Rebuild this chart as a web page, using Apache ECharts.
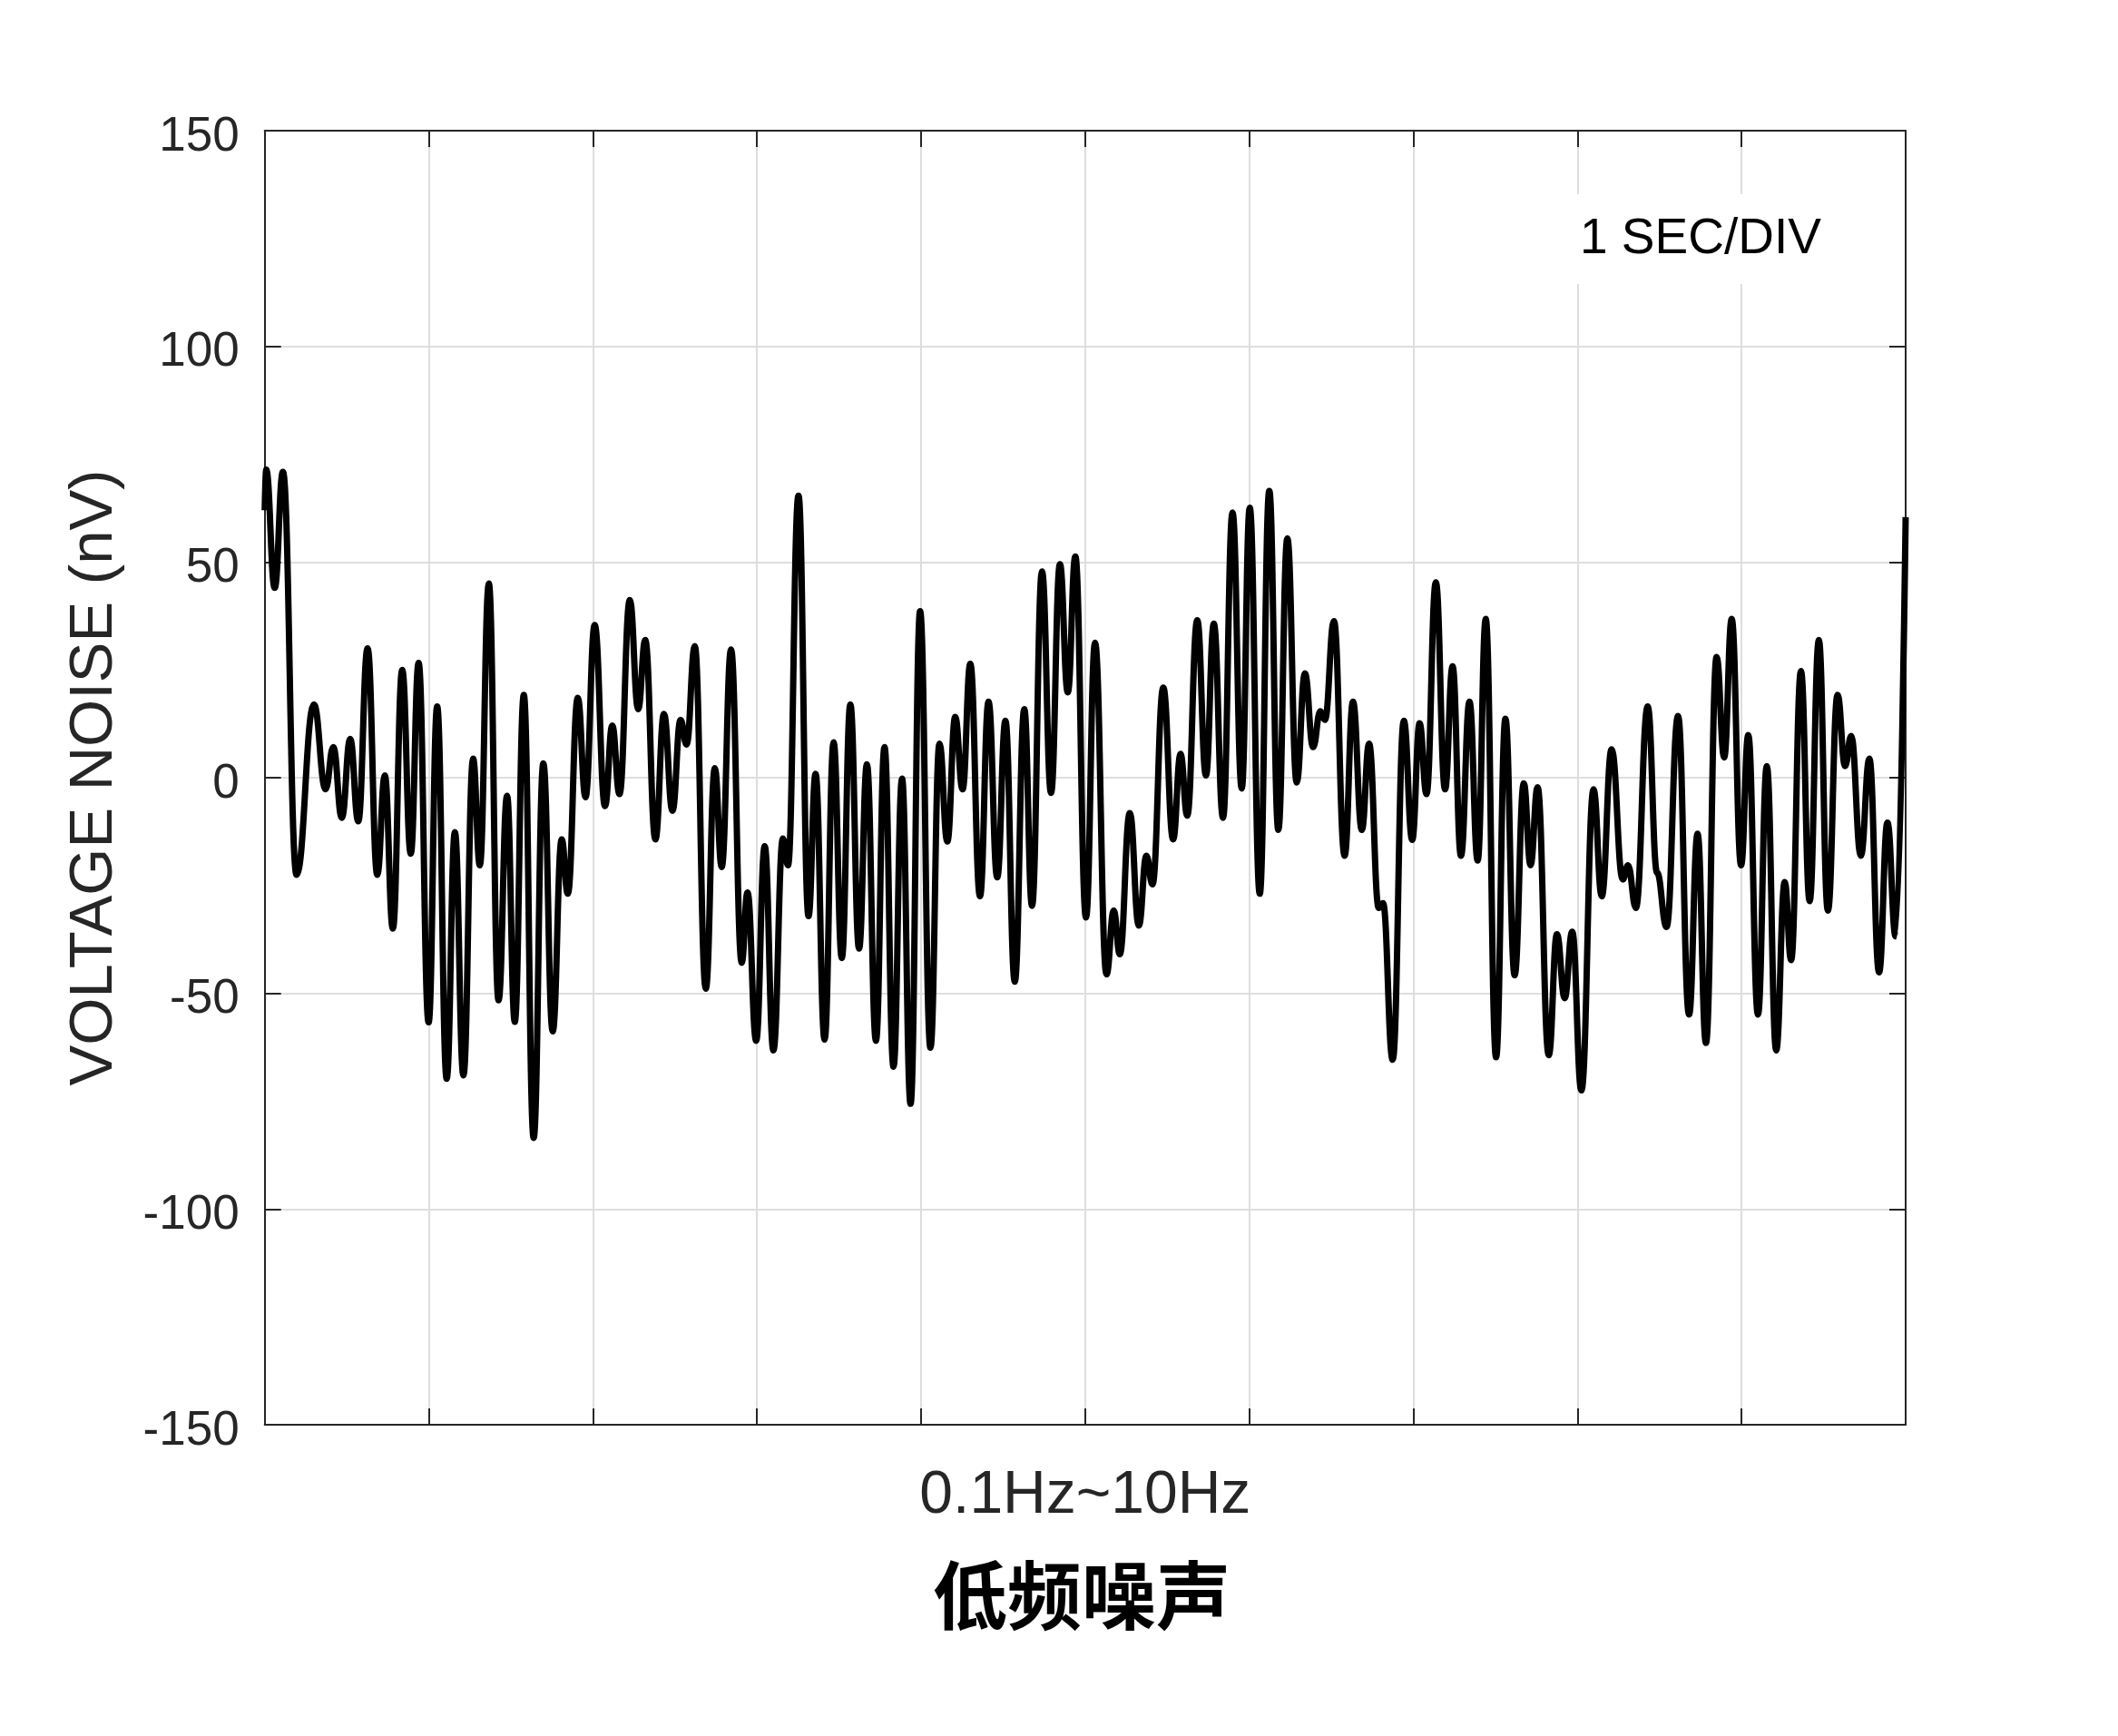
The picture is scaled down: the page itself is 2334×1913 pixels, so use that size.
<!DOCTYPE html>
<html>
<head>
<meta charset="utf-8">
<script src="https://cdn.jsdelivr.net/npm/echarts@6/dist/echarts.min.js"></script>
<style>html,body{margin:0;padding:0;background:#fff}#c{width:2334px;height:1913px}</style>
</head>
<body>
<div id="c"></div>
<script>
// time (seconds, 1 s per division) and voltage noise (nV) at turning points of the trace
const timeSec = [0.000,0.009,0.061,0.111,0.194,0.300,0.371,0.418,0.470,0.521,0.570,0.627,0.686,0.732,0.781,0.838,0.890,0.938,0.999,
1.051,1.109,1.159,1.211,1.270,1.311,1.366,1.425,1.477,1.524,1.579,1.639,1.698,1.755,1.810,1.847,1.908,1.955,
2.011,2.074,2.118,2.162,2.225,2.276,2.319,2.381,2.433,2.485,2.534,2.571,2.621,2.688,2.743,2.785,2.842,2.907,2.942,2.995,
3.047,3.100,3.158,3.189,3.253,3.314,3.357,3.412,3.467,3.517,3.569,3.622,3.670,3.725,3.777,3.832,3.884,3.936,3.994,
4.057,4.112,4.160,4.208,4.253,4.300,4.359,4.411,4.464,4.514,4.571,4.629,4.676,4.737,4.792,4.846,4.894,4.940,
5.005,5.060,5.130,5.174,5.211,5.272,5.327,5.373,5.410,5.476,5.536,5.581,5.622,5.683,5.736,5.784,5.840,5.898,5.954,
6.003,6.064,6.122,6.177,6.232,6.289,6.339,6.389,6.433,6.461,6.516,6.581,6.632,6.686,6.730,6.789,6.815,6.874,6.942,6.993,
7.038,7.080,7.137,7.193,7.239,7.290,7.342,7.392,7.441,7.504,7.561,7.617,7.673,7.714,7.757,7.825,7.875,7.922,7.968,
8.024,8.098,8.148,8.208,8.276,8.308,8.356,8.428,8.485,8.543,8.613,8.680,8.732,8.783,8.848,8.894,8.940,8.997,
9.041,9.100,9.154,9.211,9.263,9.302,9.362,9.415,9.471,9.526,9.585,9.631,9.668,9.727,9.779,9.838,9.889,9.939,10.000];
const noiseNV = [62,71.4,44,70.9,-22.5,17,-2.7,7.1,-9.3,9,-10.1,30,-22.5,0.5,-35,25,-17.6,26.6,-56.7,
16.5,-69.8,-12.6,-69,4.4,-20.3,45,-51.6,-4.2,-56.6,19.2,-83.5,3.3,-58.8,-14.3,-26.9,18.5,-4.5,
35.4,-6.6,12.1,-3.8,41.2,15.9,31.9,-14.3,14.8,-7.7,13.4,7.7,30.5,-48.9,2.2,-20.7,29.7,-42.9,-26.6,-61,
-15.9,-63.2,-14.1,-20.3,65.4,-32.1,0.9,-60.7,8.2,-41.8,17,-39.6,3.1,-61,7.1,-67,-0.2,-75.6,38.6,
-62.6,7.9,-14.8,14.1,-2.7,26.4,-27.5,17.6,-23.1,13.2,-47.3,15.9,-29.7,47.8,-3.5,49.5,19.8,51.3,
-32.4,31.3,-45.6,-30.8,-40.9,-8.2,-34.3,-18.1,-24.7,20.9,-14.3,5.5,-8.8,36.5,0.5,35.7,-9.3,61.5,-2.5,
62.6,-26.9,66.5,-12.1,55.5,-1.1,24.2,7.1,15.4,13.4,36.3,-18.1,17.6,-12.1,7.9,-30.2,-29.1,-65.4,13.2,-14.4,
12.6,-3.8,45.3,-2.7,25.8,-18.1,17.6,-19.2,36.8,-64.8,13.7,-45.8,-1.3,-20.3,-2.2,-64.3,-36.3,-51.1,-35.7,
-72.5,-2.7,-27.5,6.6,-23.6,-20.3,-30.2,16.5,-22,-34.6,14.3,-54.9,-13,-61.5,28,4.7,36.8,-20.3,
9.9,-54.9,2.7,-63.2,-24.2,-42.3,24.7,-28.6,31.9,-30.8,19.2,2.7,9.7,-18.1,4.4,-45.1,-10.4,-36.8,60.4];
const yTicks = [-150,-100,-50,0,50,100,150];
const xName = '0.1Hz~10Hz';
const yName = 'VOLTAGE NOISE (nV)';
const titleText = '低频噪声';
const noteText = '1 SEC/DIV';

const dark = '#262626';
const gridColor = '#dedede';
const font = 'Liberation Sans, Arial, Helvetica, sans-serif';
const chart = echarts.init(document.getElementById('c'), null, {renderer: 'canvas'});
const seriesData = timeSec.map((t, i) => [t, noiseNV[i]]);

const axisCommon = {
  type: 'value',
  axisLine: {show: true, onZero: false, lineStyle: {color: dark, width: 2}},
  axisTick: {show: true, inside: true, length: 18, lineStyle: {color: dark, width: 2}}
};

chart.setOption({
  animation: false,
  backgroundColor: '#fff',
  textStyle: {fontFamily: font},
  title: {
    text: titleText,
    left: 1187, top: 1712, textAlign: 'center',
    textStyle: {fontFamily: '"Noto Sans CJK SC", sans-serif', fontWeight: 'bold', fontSize: 82, color: '#000'}
  },
  grid: {left: 291.7, top: 144, right: 234, bottom: 343, containLabel: false},
  xAxis: [
    Object.assign({}, axisCommon, {
      min: 0, max: 10, interval: 1, position: 'bottom',
      axisLabel: {show: false},
      splitLine: {show: true, lineStyle: {color: gridColor, width: 2}},
      name: xName, nameLocation: 'middle', nameGap: 46,
      nameTextStyle: {fontSize: 66, color: dark, fontFamily: font}
    }),
    Object.assign({}, axisCommon, {
      min: 0, max: 10, interval: 1, position: 'top',
      axisLabel: {show: false}, splitLine: {show: false}
    })
  ],
  yAxis: [
    Object.assign({}, axisCommon, {
      min: yTicks[0], max: yTicks[yTicks.length - 1], interval: 50, position: 'left',
      axisLabel: {
        show: true, margin: 28,
        formatter: '{t|{value}}',
        rich: {t: {fontSize: 53, color: dark, fontFamily: font, padding: [14, 0, 0, 0]}}
      },
      splitLine: {show: true, lineStyle: {color: gridColor, width: 2}},
      name: yName, nameLocation: 'middle', nameGap: 154, nameRotate: 90,
      nameTextStyle: {fontSize: 67, color: dark, fontFamily: font}
    }),
    Object.assign({}, axisCommon, {
      min: yTicks[0], max: yTicks[yTicks.length - 1], interval: 50, position: 'right',
      axisLabel: {show: false}, splitLine: {show: false}
    })
  ],
  graphic: [{
    type: 'text',
    left: 1721, top: 214, z: 100,
    style: {
      text: noteText, fontSize: 55, fontFamily: font, fill: '#000',
      backgroundColor: '#fff', padding: [22, 20, 22, 20], lineHeight: 55
    }
  }],
  series: [{
    type: 'line',
    xAxisIndex: 0, yAxisIndex: 0,
    data: seriesData,
    showSymbol: false,
    smooth: 0.45,
    smoothMonotone: 'x',
    lineStyle: {color: '#000', width: 7},
    z: 10
  }]
});
</script>
</body>
</html>
